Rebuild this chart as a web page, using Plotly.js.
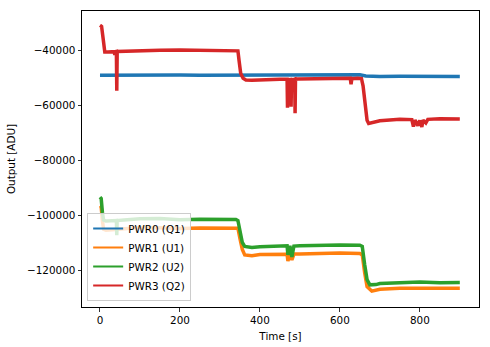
<!DOCTYPE html>
<html>
<head>
<meta charset="utf-8">
<script src="https://cdn.plot.ly/plotly-3.0.1.min.js"></script>
<style>html,body{margin:0;padding:0;background:#fff;}#chart{width:490px;height:347px;}</style>
</head>
<body>
<div id="chart"></div>
<script>
// ---- data ----
const seriesNames = ["PWR0 (Q1)", "PWR1 (U1)", "PWR2 (U2)", "PWR3 (Q2)"];
const seriesColors = ["#1f77b4", "#ff7f0e", "#2ca02c", "#d62728"];

const t0 = [0, 50, 100, 150, 200, 250, 300, 345, 360, 400, 450, 500, 550, 600, 650, 665, 700, 750, 800, 850, 900];
const pwr0 = [-49200, -49100, -49000, -49000, -49100, -49200, -49200, -49300, -49200, -49100, -49000, -49000, -49000, -49000, -49000, -49400, -49600, -49500, -49600, -49500, -49600];

const t1 = [0, 3, 6, 9, 15, 50, 100, 150, 200, 250, 300, 345, 350, 356, 362, 380, 400, 450, 468, 470, 475, 480, 485, 500, 550, 600, 650, 656, 662, 668, 680, 700, 750, 800, 850, 900];
const pwr1 = [-96600, -97000, -102000, -105200, -105500, -105000, -104500, -104600, -104900, -104700, -104600, -104800, -108500, -112500, -114500, -114800, -114400, -114300, -114300, -116700, -114300, -116300, -114200, -114200, -114000, -113800, -114000, -114500, -121000, -126000, -127700, -127000, -126600, -126700, -126500, -126600];

const t2 = [0, 3, 6, 9, 15, 41, 42, 43, 60, 100, 150, 200, 250, 300, 340, 345, 350, 356, 362, 380, 400, 450, 468, 470, 475, 480, 485, 500, 550, 600, 650, 656, 662, 668, 675, 690, 700, 750, 800, 850, 900];
const pwr2 = [-93500, -94000, -99000, -101800, -102200, -102000, -107300, -102000, -101800, -101400, -101300, -101700, -101500, -101400, -101600, -102000, -106000, -110000, -111400, -111800, -111500, -111300, -111200, -114500, -111200, -115200, -111300, -111200, -111000, -110900, -111000, -111400, -118000, -123500, -125400, -125300, -124900, -124700, -124400, -124600, -124500];

const t3 = [0, 4, 8, 12, 20, 36, 37, 38, 41, 42, 43, 44, 60, 100, 150, 200, 250, 300, 340, 345, 348, 352, 358, 365, 380, 400, 450, 468, 469, 470, 477, 478, 479, 487, 488, 489, 495, 550, 600, 626, 628, 630, 645, 654, 658, 663, 668, 672, 680, 700, 750, 780, 784, 788, 795, 800, 805, 808, 815, 820, 850, 900];
const pwr3 = [-31000, -31400, -36000, -40700, -40700, -40600, -41800, -40600, -40500, -54800, -41000, -40500, -40400, -40200, -40100, -40000, -40100, -40000, -40100, -40300, -44000, -48500, -50300, -50900, -51000, -50800, -50600, -50600, -61000, -50800, -50700, -60600, -51000, -50600, -63000, -50600, -50500, -50400, -50300, -50300, -52400, -50400, -50300, -50400, -53000, -60000, -65500, -66700, -66400, -65700, -65200, -65300, -67800, -65500, -67500, -65600, -68000, -65500, -66500, -65200, -65000, -65100];

const xTicks = [0, 200, 400, 600, 800];
const yTicks = [-120000, -100000, -80000, -60000, -40000];

// ---- chart ----
const xs = [t0, t1, t2, t3];
const ys = [pwr0, pwr1, pwr2, pwr3];
const traces = xs.map((x, i) => ({
  x: x, y: ys[i], type: "scatter", mode: "lines", name: seriesNames[i],
  showlegend: false, legendgroup: "g" + i,
  line: {color: seriesColors[i], width: 3.5}
}));
// legend entries with thinner line samples
seriesNames.forEach((n, i) => traces.push({
  x: [null], y: [null], type: "scatter", mode: "lines", name: n,
  legendgroup: "g" + i, showlegend: true,
  line: {color: seriesColors[i], width: 2}
}));

const font = {family: "DejaVu Sans", size: 10.4, color: "#000"};
const layout = {
  width: 490, height: 347,
  margin: {l: 82, r: 11, t: 11, b: 40, pad: 0},
  paper_bgcolor: "#fff", plot_bgcolor: "#fff",
  font: font,
  showlegend: true,
  legend: {x: 0.013, y: 0.02, xanchor: "left", yanchor: "bottom",
    bgcolor: "rgba(255,255,255,0.8)", bordercolor: "#cccccc", borderwidth: 1,
    font: font, tracegroupgap: 0, traceorder: "normal"},
  xaxis: {range: [-45, 948], tickvals: xTicks, ticktext: xTicks.map(String),
    showgrid: false, zeroline: false, showline: true, mirror: true, linecolor: "#000", linewidth: 1,
    ticks: "outside", ticklen: 3.5, tickwidth: 0.8, tickcolor: "#000",
    title: {text: "Time [s]", font: font, standoff: 7}},
  yaxis: {range: [-133450, -25800], tickvals: yTicks, ticktext: yTicks.map(v => "\u2212" + String(-v)),
    showgrid: false, zeroline: false, showline: true, mirror: true, linecolor: "#000", linewidth: 1,
    ticks: "outside", ticklen: 3.5, tickwidth: 0.8, tickcolor: "#000",
    title: {text: "Output [ADU]", font: font, standoff: 9}}
};
Plotly.newPlot("chart", traces, layout, {staticPlot: true, displayModeBar: false});
</script>
</body>
</html>
